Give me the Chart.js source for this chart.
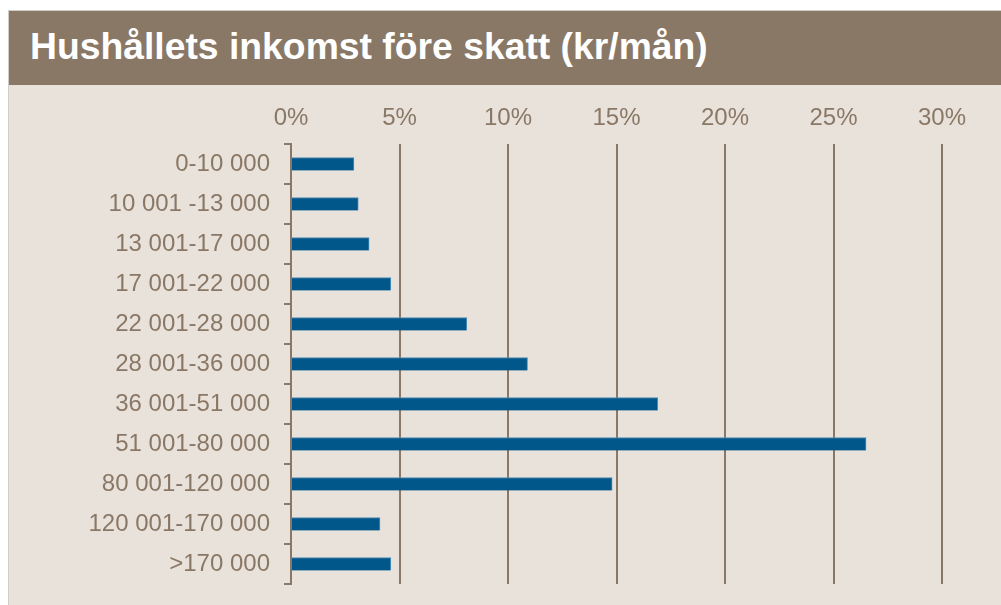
<!DOCTYPE html>
<html>
<head>
<meta charset="utf-8">
<script src="https://cdn.jsdelivr.net/npm/chart.js@4"></script>
<style>
    html, body { margin: 0; padding: 0; width: 1001px; height: 605px; background: #ffffff; overflow: hidden; }
    #panel { position: absolute; left: 8px; top: 10px; width: 993px; height: 595px; background: #e9e2db; border-left: 1px solid #d0ccc8; border-top: 1px solid #d0ccc8; box-sizing: border-box; }
    #title { position: absolute; left: 0; top: 0; width: 100%; height: 74px; background: #8a7866; }
    #title span { position: absolute; left: 21px; top: 14px; color: #ffffff; font: bold 37.3px "Liberation Sans", Arial, sans-serif; white-space: nowrap; }
    #chart { position: absolute; left: 0; top: 84px; }
</style>
</head>
<body>
<div id="panel"><div id="title"><span>Hushållets inkomst före skatt (kr/mån)</span></div></div>
<canvas id="chart" width="1001" height="521"></canvas>
<script>
// Inkomstklasser (kr/mån)
const categories = [
    '0-10 000', '10 001 -13 000', '13 001-17 000', '17 001-22 000', '22 001-28 000',
    '28 001-36 000', '36 001-51 000', '51 001-80 000', '80 001-120 000',
    '120 001-170 000', '>170 000'
];
// Andel hushåll (%)
const shares = [2.9, 3.1, 3.6, 4.6, 8.1, 10.9, 16.9, 26.5, 14.8, 4.1, 4.6];
const xTicks = [0, 5, 10, 15, 20, 25, 30];

const brown = '#8a7866';
const font = { family: '"Liberation Sans", Arial, sans-serif', size: 24 };

const ctx = document.getElementById('chart').getContext('2d');
new Chart(ctx, {
    type: 'bar',
    data: {
        labels: categories,
        datasets: [{
            data: shares,
            backgroundColor: '#02578a',
            borderColor: '#4f8db5',
            borderWidth: { top: 1, right: 1, bottom: 0, left: 0 },
            borderSkipped: 'start',
            barThickness: 13
        }]
    },
    options: {
        indexAxis: 'y',
        responsive: false,
        animation: false,
        layout: { padding: { left: 0, right: 59, top: 0, bottom: 21 } },
        scales: {
            x: {
                position: 'top',
                min: 0,
                max: 30,
                afterFit: scale => { scale.height = 60; },
                afterBuildTicks: scale => { scale.ticks = xTicks.map(v => ({ value: v })); },
                ticks: {
                    color: brown,
                    font: font,
                    padding: 11,
                    callback: v => v + '%'
                },
                grid: { color: brown, lineWidth: 2, drawTicks: false },
                border: { display: false }
            },
            y: {
                afterFit: scale => {
                    scale.width = 291;
                    scale.paddingTop = 0;
                    scale.paddingBottom = 0;
                },
                ticks: { color: brown, font: font, padding: 14 },
                grid: { offset: true, drawOnChartArea: false, drawTicks: true, tickLength: 7, color: brown, lineWidth: 2 },
                border: { display: true, color: brown, width: 2 }
            }
        },
        plugins: {
            legend: { display: false },
            tooltip: { enabled: false }
        }
    }
});
</script>
</body>
</html>
